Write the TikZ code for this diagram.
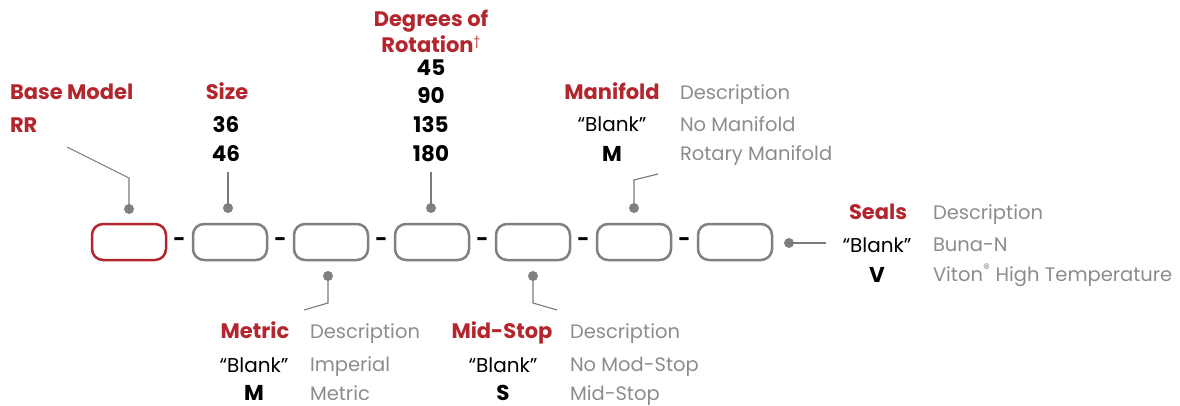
\documentclass[tikz,border=0pt]{standalone}
\usepackage{fontspec}
\setmainfont{Poppins}
\definecolor{brandred}{HTML}{B3262E}
\definecolor{descgray}{HTML}{8C8C8E}
\definecolor{boxgray}{HTML}{808084}
\definecolor{linegray}{HTML}{7A7A7D}
\begin{document}
\begin{tikzpicture}[x=1pt,y=-1pt,
  every node/.style={inner sep=0pt, outer sep=0pt, font=\fontsize{19.5}{22}\selectfont},
  codebox/.style={draw=boxgray, line width=2.5pt, rounded corners=11pt, minimum width=74pt, minimum height=36pt},
  redbox/.style={codebox, draw=brandred},
  pin/.style={circle, fill=boxgray, minimum size=10pt},
  head/.style={anchor=base, text=brandred, font=\fontsize{21}{24}\selectfont\bfseries},
  code/.style={anchor=base, text=black, font=\fontsize{21.5}{24}\selectfont\bfseries},
  blank/.style={anchor=base, text=black, font=\fontsize{20}{24}\selectfont},
  desc/.style={anchor=base west, text=descgray},
  sep/.style={anchor=center, text=black, font=\fontsize{21}{24}\selectfont\bfseries},
  lead/.style={draw=linegray, line width=1.1pt}
]
\useasboundingbox (0,0) rectangle (1180,406);

% boxes
\node[redbox]  (b1) at (129,242) {};
\node[codebox] (b2) at (230,242) {};
\node[codebox] (b3) at (331,242) {};
\node[codebox] (b4) at (432,242) {};
\node[codebox] (b5) at (533,242) {};
\node[codebox] (b6) at (634,242) {};
\node[codebox] (b7) at (735,242) {};

% dashes
\node[sep] (d1) at (179.5,242) {-};
\node[sep] (d2) at (280.5,242) {-};
\node[sep] (d3) at (381.5,242) {-};
\node[sep] (d4) at (482.5,242) {-};
\node[sep] (d5) at (583.5,242) {-};
\node[sep] (d6) at (684.5,242) {-};

% pins
\node[pin] (p1) at (129,209) {};
\node[pin] (p2) at (228,208) {};
\node[pin] (p4) at (431,208) {};
\node[pin] (p6) at (634,208) {};
\node[pin] (p3) at (328,276) {};
\node[pin] (p5) at (533,276) {};
\node[pin] (p7) at (789,243) {};

% leader coordinates
\coordinate (l1a) at (67,147);
\coordinate (l1b) at (129,178);
\coordinate (l2a) at (228,172);
\coordinate (l4a) at (431,172);
\coordinate (l6a) at (658,174);
\coordinate (l6b) at (634,180);
\coordinate (l3a) at (328,303);
\coordinate (l3b) at (304,310);
\coordinate (l5a) at (533,303);
\coordinate (l5b) at (557,310);
\coordinate (l7a) at (826,243);

\draw[lead] (l1a) -- (l1b) -- (p1.center);
\draw[lead] (l2a) -- (p2.center);
\draw[lead] (l4a) -- (p4.center);
\draw[lead] (l6a) -- (l6b) -- (p6.center);
\draw[lead] (p3.center) -- (l3a) -- (l3b);
\draw[lead] (p5.center) -- (l5a) -- (l5b);
\draw[lead] (p7.center) -- (l7a);

% Base model
\node[head, anchor=base west] (hbase) at (10,100) {Base Model};
\node[head, anchor=base west] (hrr) at (10,133) {RR};

% Size
\node[head] (hsize) at (227,100) {Size};
\node[code] (s36) at (226,133) {36};
\node[code] (s46) at (226,162) {46};

% Degrees
\node[head] (hdeg1) at (431,27) {Degrees of};
\node[head] (hdeg2) at (431,53) {Rotation\textsuperscript{\normalfont\fontsize{12}{12}\selectfont †}};
\node[code] (r45) at (431,76) {45};
\node[code] (r90) at (431,104) {90};
\node[code] (r135) at (431,133) {135};
\node[code] (r180) at (431,162) {180};

% Manifold
\node[head] (hman) at (612,100) {Manifold};
\node[desc] (dman) at (680,100) {Description};
\node[blank] (bman) at (612,132) {“Blank”};
\node[desc] (dman1) at (680,132) {No Manifold};
\node[code] (cman) at (612,162) {M};
\node[desc] (dman2) at (680,161) {Rotary Manifold};

% Seals
\node[head] (hseal) at (878,219) {Seals};
\node[desc] (dseal) at (933,219) {Description};
\node[blank] (bseal) at (877,252) {“Blank”};
\node[desc] (dseal1) at (933,251) {Buna-N};
\node[code] (cseal) at (877,282) {V};
\node[desc] (dseal2) at (933,281) {Viton\textsuperscript{®} High Temperature};

% Metric
\node[head] (hmet) at (255,338) {Metric};
\node[desc] (dmet) at (310,338) {Description};
\node[blank] (bmet) at (254,372) {“Blank”};
\node[desc] (dmet1) at (310,371) {Imperial};
\node[code] (cmet) at (254,400) {M};
\node[desc] (dmet2) at (310,400) {Metric};

% Mid-stop
\node[head] (hmid) at (502,338) {Mid-Stop};
\node[desc] (dmid) at (570,338) {Description};
\node[blank] (bmid) at (503,372) {“Blank”};
\node[desc] (dmid1) at (570,371) {No Mod-Stop};
\node[code] (cmid) at (503,400) {S};
\node[desc] (dmid2) at (570,400) {Mid-Stop};
\end{tikzpicture}
\end{document}
